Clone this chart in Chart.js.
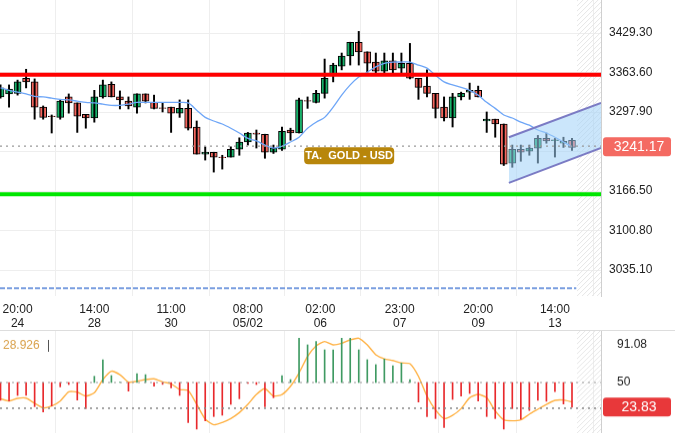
<!DOCTYPE html>
<html>
<head>
<meta charset="utf-8">
<script src="https://cdn.jsdelivr.net/npm/chart.js@4"></script>
<style>
  body { margin: 0; background: #fff; }
  #wrap { position: relative; width: 675px; height: 434px; }
  #main { position: absolute; left: 0; top: 0; }
  #osc { position: absolute; left: 0; top: 330px; border-top: 1px solid #ddd; }
</style>
</head>
<body>
<div id="wrap">
  <canvas id="main" width="675" height="330"></canvas>
  <canvas id="osc" width="675" height="103"></canvas>
</div>
<script>
// candles, one per bar
const opens  = [3323,3328,3329,3354,3348,3306,3291,3289,3323,3313,3294,3288,3323,3344,3323,3316,3306,3328,3314,3305,3306,3296,3304,3273,3228,3231,3223,3223,3236,3248,3263,3261,3231,3236,3268,3263,3317,3314,3329,3359,3374,3391,3414,3398,3381,3366,3383,3371,3379,3354,3341,3329,3306,3288,3323,3331,3334,3283,3286,3278,3213,3236,3233,3238,3254,3251,3246,3251];
const highs  = [3343,3343,3351,3369,3353,3308,3293,3318,3328,3313,3294,3334,3351,3348,3333,3323,3328,3328,3326,3313,3306,3318,3318,3283,3240,3231,3226,3240,3255,3264,3268,3261,3243,3273,3271,3321,3323,3334,3386,3379,3396,3414,3432,3398,3396,3396,3396,3396,3412,3354,3368,3329,3323,3329,3331,3346,3341,3298,3286,3278,3243,3243,3243,3259,3263,3254,3256,3254];
const lows   = [3321,3306,3326,3338,3286,3286,3263,3286,3296,3264,3271,3281,3321,3323,3303,3303,3296,3313,3303,3298,3264,3289,3268,3228,3218,3198,3203,3223,3226,3243,3238,3221,3229,3234,3251,3263,3304,3313,3321,3348,3368,3376,3376,3364,3363,3363,3363,3363,3353,3319,3323,3288,3283,3273,3318,3319,3323,3264,3256,3209,3206,3216,3226,3213,3246,3223,3239,3234];
const closes = [3338,3336,3348,3348,3306,3289,3290,3316,3313,3291,3288,3323,3343,3323,3318,3308,3328,3316,3304,3304,3296,3304,3271,3228,3231,3223,3222,3236,3248,3263,3261,3231,3238,3266,3263,3318,3316,3329,3354,3376,3391,3414,3398,3379,3366,3383,3368,3379,3354,3339,3329,3304,3288,3323,3329,3334,3323,3286,3278,3211,3236,3231,3238,3254,3250,3251,3249,3239];
// blue moving average as drawn
const maLine = [3338,3334,3331,3328,3324,3323,3321,3319,3318,3316,3314,3313,3311,3309,3309,3311,3314,3314,3314,3314,3314,3314,3313,3301,3289,3283,3278,3271,3263,3254,3250,3243,3238,3241,3248,3256,3271,3281,3289,3306,3326,3343,3356,3364,3373,3379,3381,3381,3381,3376,3371,3359,3348,3343,3339,3334,3326,3314,3304,3293,3288,3281,3276,3268,3263,3256,3248,3240];
// oscillator histogram and signal line
const oscBars = [30.5,29.8,35.9,35.9,23.7,17.9,24.4,45.3,47.8,30.9,21.5,56.8,74.9,57.6,50.5,40.6,59.7,58.6,46,48,44.2,35.9,6.4,-0.8,8.2,12.9,14.3,26.2,32.3,48.9,47.8,23.7,33.4,57.6,53.2,98.3,91.1,94.7,85.7,85.7,98.3,98.3,85.7,74.9,69.5,75.6,68.4,71.3,53.2,28.7,12.9,10.7,1,31.6,35.2,38.1,29.8,12.9,10.7,-0.8,21.5,10,19.5,30.5,29.5,40,26.6,23];
const oscLine = [32.3,29.8,32.7,33,27.3,22.3,24.4,29.8,39.9,39.5,35.2,38.8,53.2,62.3,58.6,50.4,51.4,53.2,54,50.7,48.6,42.4,41.4,26.2,10,3.9,6.4,10.7,17.2,26.2,37,43.2,35.2,37,46,60.5,78.5,90,94.7,91.1,92.9,96.5,98.3,91.1,80.3,75.9,74.1,71.3,70.5,56.8,35.2,20.1,10.7,14.3,21.5,33.4,37,33.4,19,9.3,8.2,9.3,15.4,20.8,26.2,30.5,30.9,28.7];

const timeTicks = [2, 11, 20, 29, 37.5, 46.8, 56, 65];
const timeLabels = [["20:00","24"],["14:00","28"],["11:00","30"],["08:00","05/02"],["02:00","06"],["23:00","07"],["20:00","09"],["14:00","13"]];
const priceTicks = [3035.1, 3100.8, 3166.5, 3232.2, 3297.9, 3363.6, 3429.3];
const resistance = 3360, support = 3161, lastPrice = 3241.17, lowLine = 3005;
const channelX = [59.6, 70.4];
const channelUpper = [3256, 3313];
const channelLower = [3180, 3238];
const oscTicks = [50, 91.08];
const oscLast = 23.83, oscLevel = 22;

const X_MIN = -0.06, X_MAX = 70.4;
const GREEN = "#17b26a", RED = "#f4665e";
const FONT = "'Liberation Sans', Arial, sans-serif";
Chart.defaults.font.family = FONT;
Chart.defaults.animation = false;

const idx = opens.map((_, i) => i);
const span = (a, b) => [{ x: X_MIN, y: a }, { x: X_MAX, y: b }];
const noPad = s => { s.paddingTop = 0; s.paddingBottom = 0; s.paddingLeft = 0; s.paddingRight = 0; };

// hatch on the right-hand future area
const hatch = {
  id: "hatch",
  beforeDatasetsDraw(chart) {
    const { ctx, chartArea: a, scales: { x } } = chart;
    const left = x.getPixelForValue(67.6);
    ctx.save();
    ctx.beginPath();
    ctx.rect(left, a.top, a.right - left, a.bottom - a.top);
    ctx.clip();
    ctx.strokeStyle = "#e6e6e6";
    ctx.lineWidth = 1;
    for (let k = left - 400; k < a.right; k += 5) {
      ctx.beginPath();
      ctx.moveTo(k, a.bottom);
      ctx.lineTo(k + 400, a.bottom - 400);
      ctx.stroke();
    }
    ctx.restore();
  }
};

function priceTag(text, value, color) {
  return {
    id: "tag",
    afterDraw(chart) {
      const { ctx, scales } = chart;
      const y = scales.y.getPixelForValue(value);
      const x0 = chart.chartArea.right + 2;
      ctx.save();
      ctx.fillStyle = color;
      ctx.beginPath();
      ctx.roundRect(x0, y - 9, 68, 19, 3);
      ctx.fill();
      ctx.fillStyle = "#fff";
      ctx.font = "14px " + FONT;
      ctx.textAlign = "center";
      ctx.textBaseline = "middle";
      ctx.fillText(text, x0 + 36, y + 1);
      ctx.restore();
    }
  };
}

const goldLabel = {
  id: "goldLabel",
  afterDatasetsDraw(chart) {
    const { ctx, scales: { x, y } } = chart;
    const px = x.getPixelForValue(35.6), py = y.getPixelForValue(3226);
    ctx.save();
    ctx.fillStyle = "#b8860b";
    ctx.beginPath();
    ctx.roundRect(px, py - 8, 90, 17, 4);
    ctx.fill();
    ctx.fillStyle = "#fff";
    ctx.font = "bold 11px " + FONT;
    ctx.textAlign = "center";
    ctx.textBaseline = "middle";
    ctx.fillText("TA.  GOLD - USD", px + 45, py + 1);
    ctx.restore();
  }
};

new Chart(document.getElementById("main"), {
  type: "bar",
  data: {
    datasets: [
      { type: "line", data: [{ x: X_MIN, y: lowLine }, { x: 67.5, y: lowLine }],
        borderColor: "#7b9fe0", borderWidth: 2, borderDash: [5, 2], pointRadius: 0 },
      { type: "line", data: span(lastPrice, lastPrice), borderColor: "#999", borderWidth: 1.2,
        borderDash: [2, 4], pointRadius: 0 },
      { type: "line", data: channelX.map((x, i) => ({ x, y: channelLower[i] })),
        borderColor: "#7b7bc4", borderWidth: 2, pointRadius: 0 },
      { type: "line", data: channelX.map((x, i) => ({ x, y: channelUpper[i] })),
        borderColor: "#7b7bc4", borderWidth: 2, pointRadius: 0,
        fill: "-1", backgroundColor: "rgba(160,210,248,0.55)" },
      { type: "line", data: span(resistance, resistance), borderColor: "#ff0000", borderWidth: 4, pointRadius: 0 },
      { type: "line", data: span(support, support), borderColor: "#00e600", borderWidth: 4, pointRadius: 0 },
      { type: "line", data: idx.map(i => ({ x: i, y: maLine[i] })), borderColor: "#6ea6f7",
        borderWidth: 1.3, pointRadius: 0, tension: 0.3 },
      { data: idx.map(i => ({ x: i, y: [lows[i], highs[i]] })), backgroundColor: "#000",
        barThickness: 1.3, grouped: false },
      { data: idx.map(i => ({ x: i, y: opens[i] === closes[i] ? [opens[i] - 0.6, opens[i] + 0.6] : [opens[i], closes[i]] })),
        backgroundColor: idx.map(i => closes[i] >= opens[i] ? GREEN : RED),
        borderColor: "#000", borderWidth: 1, borderSkipped: false, barThickness: 7, grouped: false }
    ]
  },
  options: {
    responsive: false,
    layout: { padding: 0 },
    plugins: { legend: { display: false }, tooltip: { enabled: false } },
    scales: {
      x: {
        type: "linear", min: X_MIN, max: X_MAX, offset: false,
        afterBuildTicks: s => { s.ticks = timeTicks.map(v => ({ value: v })); },
        afterFit: s => { s.height = 34; noPad(s); },
        ticks: { autoSkip: false, maxRotation: 0, color: "#222", font: { size: 12 }, padding: 6,
          callback: v => timeLabels[timeTicks.indexOf(v)] },
        grid: { color: "#eeeeee", drawTicks: false },
        border: { display: false }
      },
      y: {
        position: "right", min: 3484.2 - 296 * 1.663, max: 3484.2,
        afterBuildTicks: s => { s.ticks = priceTicks.map(v => ({ value: v })); },
        afterFit: s => { s.width = 74; noPad(s); },
        ticks: { color: "#222", font: { size: 12 }, padding: 8,
          callback: v => v === 3232.2 ? "" : v.toFixed(2) },
        grid: { color: "#eeeeee", drawTicks: false },
        border: { color: "#cfcfcf" }
      }
    }
  },
  plugins: [hatch, goldLabel, priceTag(lastPrice.toFixed(2), lastPrice, "#f46a62")]
});

const oscTitle = {
  id: "oscTitle",
  afterDraw(chart) {
    const { ctx } = chart;
    ctx.save();
    ctx.font = "12px " + FONT;
    ctx.fillStyle = "#d9a04a";
    ctx.textBaseline = "middle";
    ctx.fillText("28.926", 3, 15);
    ctx.fillStyle = "#555";
    ctx.fillRect(48, 9, 1, 12);
    ctx.restore();
  }
};

new Chart(document.getElementById("osc"), {
  type: "bar",
  data: {
    datasets: [
      { type: "line", data: span(50, 50), borderColor: "#999", borderWidth: 1.2, borderDash: [2, 4], pointRadius: 0 },
      { type: "line", data: span(oscLevel, oscLevel), borderColor: "#888", borderWidth: 1.5, borderDash: [2, 4], pointRadius: 0 },
      { data: idx.map(i => ({ x: i, y: [50, oscBars[i]] })),
        backgroundColor: idx.map(i => oscBars[i] >= 50 ? "#3f9a62" : "#e8292c"),
        barThickness: 1, grouped: false },
      { type: "line", data: idx.map(i => ({ x: i, y: oscLine[i] })), borderColor: "#ffb347",
        borderWidth: 1.4, pointRadius: 0, tension: 0.2 }
    ]
  },
  options: {
    responsive: false,
    layout: { padding: 0 },
    plugins: { legend: { display: false }, tooltip: { enabled: false } },
    scales: {
      x: {
        type: "linear", min: X_MIN, max: X_MAX, offset: false, display: true,
        afterBuildTicks: s => { s.ticks = timeTicks.map(v => ({ value: v })); },
        afterFit: s => { s.height = 0; noPad(s); },
        ticks: { display: false },
        grid: { color: "#eeeeee", drawTicks: false },
        border: { display: false }
      },
      y: {
        position: "right", min: 50 - 51 / 0.925, max: 50 + 52 / 0.925,
        afterBuildTicks: s => { s.ticks = oscTicks.map(v => ({ value: v })); },
        afterFit: s => { s.width = 74; noPad(s); },
        ticks: { color: "#222", font: { size: 12 }, padding: 8, callback: v => String(v) },
        grid: { display: false },
        border: { color: "#cfcfcf" }
      }
    }
  },
  plugins: [hatch, oscTitle, priceTag(oscLast.toFixed(2), oscLast, "#e8383a")]
});
</script>
</body>
</html>
